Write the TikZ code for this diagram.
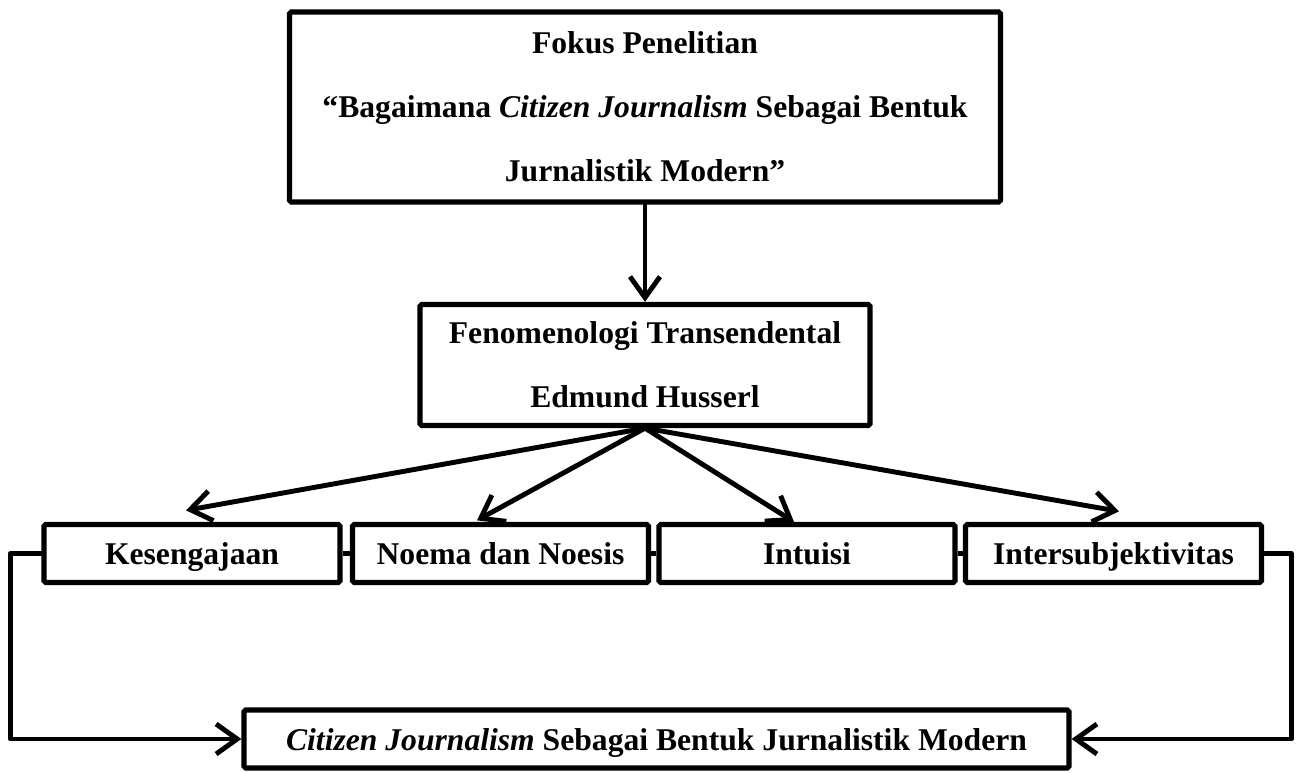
\documentclass[tikz,border=0pt]{standalone}
\usepackage{fontspec}
\setmainfont{Liberation Serif}
\usetikzlibrary{arrows.meta,positioning}
\tikzset{
 fk box/.style={draw=black,line width=3pt,rounded corners=1pt,align=center,
                inner sep=0pt,font=\bfseries\fontsize{18}{36.5}\selectfont},
 fk line/.style={fk box,text height=.44cm,text depth=0pt,minimum height=1.16cm},
 fk arrow/.style={line width=2.8pt,line cap=round,line join=round,
                  -{Straight Barb[length=.42cm,width=.6cm]}},
 fk link/.style={line width=2.8pt}
}

\begin{document}
\begin{tikzpicture}
 \useasboundingbox (0,0) rectangle (25.96,15.44);
 % focus and theory
 \node[fk box,minimum width=14.22cm,minimum height=3.8cm] (fokus) at (12.9,13.3)
   {Fokus Penelitian\\``Bagaimana \textit{Citizen Journalism} Sebagai Bentuk\\Jurnalistik Modern''};
 \node[fk box,minimum width=9cm,minimum height=2.42cm] (fen) at (12.9,8.14)
   {Fenomenologi Transendental\\Edmund Husserl};
 \draw[fk arrow] (fokus.south) -- (fen.north);
 % four concepts
 \foreach \n/\x/\t in {kes/3.84/Kesengajaan,noe/10.01/Noema dan Noesis,
                       int/16.14/Intuisi,sub/22.27/Intersubjektivitas}{
   \node[fk line,minimum width=5.92cm] (\n) at (\x,4.37) {\t};
 }
 \foreach \a/\b in {kes/noe,noe/int,int/sub}{\draw[fk link] (\a.east)--(\b.west);}
 \foreach \n/\dx/\dy in {kes/-.12/.23,noe/-.47/.03,int/-.26/0,sub/.11/.21}{
   \draw[fk arrow] (fen.south) -- ([shift={(\dx,\dy)}]\n.north);
 }
 % result
 \node[fk line,minimum width=16.5cm] (cj) at (13.13,.66)
   {\textit{Citizen Journalism} Sebagai Bentuk Jurnalistik Modern};
 \draw[fk arrow] (kes.west) -- ++(-.62,0) |- (cj.west);
 \draw[fk arrow] (sub.east) -- ++(.54,0) |- (cj.east);
\end{tikzpicture}
\end{document}
